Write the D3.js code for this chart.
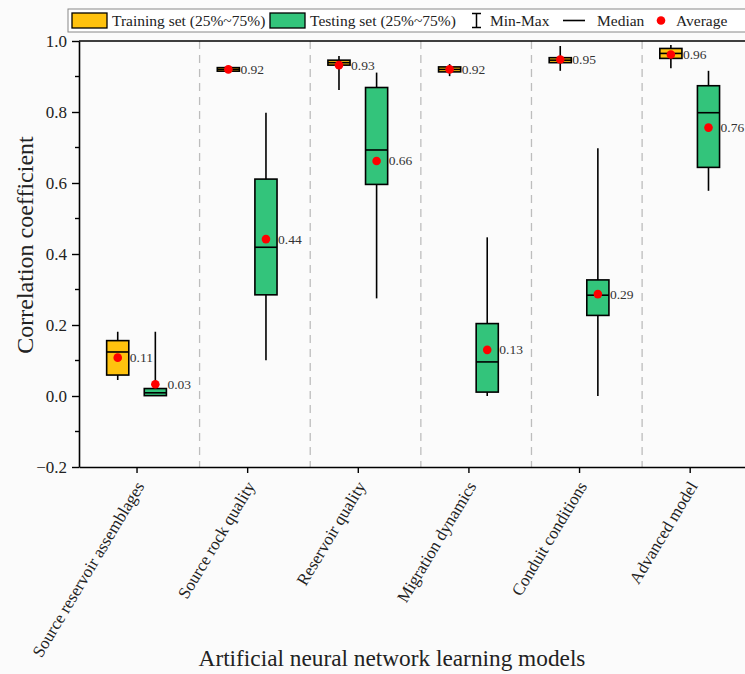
<!DOCTYPE html>
<html><head><meta charset="utf-8">
<script src="https://cdn.jsdelivr.net/npm/d3@7"></script>
<style>body{margin:0;background:#fbfbfb}svg{display:block;font-family:"Liberation Serif","Times New Roman",serif}</style>
</head><body><svg id="c" width="745" height="674"></svg>
<script>
const categories = ["Source reservoir assemblages","Source rock quality","Reservoir quality","Migration dynamics","Conduit conditions","Advanced model"];
const trainMin  = [0.045, 0.910, 0.862, 0.901, 0.916, 0.923];
const trainQ1   = [0.059, 0.915, 0.932, 0.913, 0.939, 0.951];
const trainMed  = [0.124, 0.920, 0.939, 0.920, 0.946, 0.965];
const trainQ3   = [0.156, 0.925, 0.946, 0.927, 0.953, 0.979];
const trainMax  = [0.181, 0.930, 0.958, 0.935, 0.986, 0.989];
const trainMean = [0.108, 0.920, 0.932, 0.920, 0.948, 0.962];
const testMin   = [0.000, 0.101, 0.275, 0.000, 0.000, 0.578];
const testQ1    = [0.001, 0.285, 0.596, 0.011, 0.227, 0.644];
const testMed   = [0.009, 0.419, 0.693, 0.096, 0.284, 0.798];
const testQ3    = [0.021, 0.611, 0.869, 0.204, 0.327, 0.874];
const testMax   = [0.181, 0.798, 0.911, 0.447, 0.698, 0.916];
const testMean  = [0.033, 0.442, 0.662, 0.130, 0.287, 0.756];
const yTicks = [-0.2, 0.0, 0.2, 0.4, 0.6, 0.8, 1.0];

const svg = d3.select("#c");
const L = 79, R = 745, T = 41, B = 467;
const x = d3.scaleLinear().domain([0.48, 6.5]).range([L, R]);
const y = d3.scaleLinear().domain([-0.2, 1.0]).range([B, T]);
const off = 0.17, bw = 0.2;
const colors = {train:"#FFC20E", test:"#33C47B"};
const FF = "Liberation Serif";

// separators
svg.append("g").selectAll("line").data(d3.range(1,6)).join("line")
  .attr("x1", d=>x(d+0.57)).attr("x2", d=>x(d+0.57)).attr("y1", T).attr("y2", B)
  .attr("stroke","#bdbdbd").attr("stroke-width",1.3).attr("stroke-dasharray","8,6");

function series(name, mn, q1, md, q3, mx, mean, dx){
  const g = svg.append("g");
  const d = categories.map((c,i)=>({i:i+1, mn:mn[i], q1:q1[i], md:md[i], q3:q3[i], mx:mx[i], mean:mean[i]}));
  const cx = v=>x(v.i+dx);
  const half = (x(bw)-x(0))/2;
  g.selectAll(".w").data(d).join("line").attr("x1",cx).attr("x2",cx)
    .attr("y1",v=>y(v.mn)).attr("y2",v=>y(v.mx)).attr("stroke","#000").attr("stroke-width",1.6);
  g.selectAll(".b").data(d).join("rect").attr("x",v=>cx(v)-half).attr("width",2*half)
    .attr("y",v=>y(v.q3)).attr("height",v=>Math.max(2,y(v.q1)-y(v.q3)))
    .attr("fill",colors[name]).attr("stroke","#000").attr("stroke-width",1.6);
  g.selectAll(".m").data(d).join("line").attr("x1",v=>cx(v)-half).attr("x2",v=>cx(v)+half)
    .attr("y1",v=>y(v.md)).attr("y2",v=>y(v.md)).attr("stroke","#000").attr("stroke-width",1.6);
  g.selectAll(".d").data(d).join("circle").attr("cx",cx).attr("cy",v=>y(v.mean)).attr("r",4.3).attr("fill","#f00");
  g.selectAll(".t").data(d).join("text").attr("x",v=>cx(v)+half+1).attr("y",v=>y(v.mean)+4.5)
    .attr("font-size",13.5).attr("font-family",FF).attr("fill","#333").text(v=>d3.format(".2f")(v.mean));
}
series("train", trainMin, trainQ1, trainMed, trainQ3, trainMax, trainMean, -off);
series("test", testMin, testQ1, testMed, testQ3, testMax, testMean, off);

// frame top
svg.append("line").attr("x1",L).attr("x2",R).attr("y1",T).attr("y2",T).attr("stroke","#000").attr("stroke-width",1.5);

// y axis
const ya = svg.append("g").attr("transform",`translate(${L},0)`)
  .call(d3.axisLeft(y).tickValues(yTicks).tickFormat(d3.format(".1f")).tickSize(7).tickPadding(5).tickSizeOuter(0));
ya.select(".domain").attr("stroke-width",1.6);
ya.selectAll(".tick line").attr("stroke-width",1.4);
ya.selectAll("text").attr("font-size",17).attr("font-family",FF).attr("fill","#222");
svg.append("g").selectAll("line").data(d3.range(-0.1,1.0,0.2)).join("line")
  .attr("x1",L-4).attr("x2",L).attr("y1",d=>y(d)).attr("y2",d=>y(d)).attr("stroke","#000").attr("stroke-width",1.4);

// x axis
const xa = svg.append("g").attr("transform",`translate(0,${B})`)
  .call(d3.axisBottom(x).tickValues(d3.range(1,7)).tickFormat(i=>categories[i-1]).tickSize(6).tickSizeOuter(0));
xa.select(".domain").attr("stroke-width",1.6);
xa.selectAll(".tick line").attr("stroke-width",1.4);
xa.selectAll("text").attr("font-size",17).attr("font-family",FF).attr("fill","#222")
  .attr("text-anchor","end").attr("dy",0).attr("y",0)
  .attr("transform","translate(8,19) rotate(-59)");

// titles
svg.append("text").attr("x",392).attr("y",666).attr("text-anchor","middle").attr("font-size",23.3).attr("font-family",FF).attr("fill","#222")
  .text("Artificial neural network learning models");
svg.append("text").attr("transform",`translate(33,245) rotate(-90)`).attr("text-anchor","middle")
  .attr("font-size",24).attr("font-family",FF).attr("fill","#222").text("Correlation coefficient");

// legend
const lg = svg.append("g").attr("font-family",FF);
lg.append("rect").attr("x",68).attr("y",9).attr("width",690).attr("height",23).attr("fill","#fff").attr("stroke","#888");
lg.append("rect").attr("x",72).attr("y",13).attr("width",35).attr("height",15).attr("fill",colors.train).attr("stroke","#000").attr("stroke-width",1.3);
lg.append("text").attr("x",112).attr("y",26).attr("font-size",15.5).attr("fill","#222").text("Training set (25%~75%)");
lg.append("rect").attr("x",270).attr("y",13).attr("width",35).attr("height",15).attr("fill",colors.test).attr("stroke","#000").attr("stroke-width",1.3);
lg.append("text").attr("x",310).attr("y",26).attr("font-size",15.5).attr("fill","#222").text("Testing set (25%~75%)");
lg.append("path").attr("d","M472,13.5H481M476.5,13.5V27.5M472,27.5H481").attr("stroke","#000").attr("stroke-width",1.5).attr("fill","none");
lg.append("text").attr("x",490).attr("y",26).attr("font-size",15.5).attr("fill","#222").text("Min-Max");
lg.append("line").attr("x1",563).attr("x2",585).attr("y1",20.5).attr("y2",20.5).attr("stroke","#000").attr("stroke-width",1.6);
lg.append("text").attr("x",597).attr("y",26).attr("font-size",15.5).attr("fill","#222").text("Median");
lg.append("circle").attr("cx",661).attr("cy",20.5).attr("r",4.3).attr("fill","#f00");
lg.append("text").attr("x",676).attr("y",26).attr("font-size",15.5).attr("fill","#222").text("Average");
</script></body></html>
